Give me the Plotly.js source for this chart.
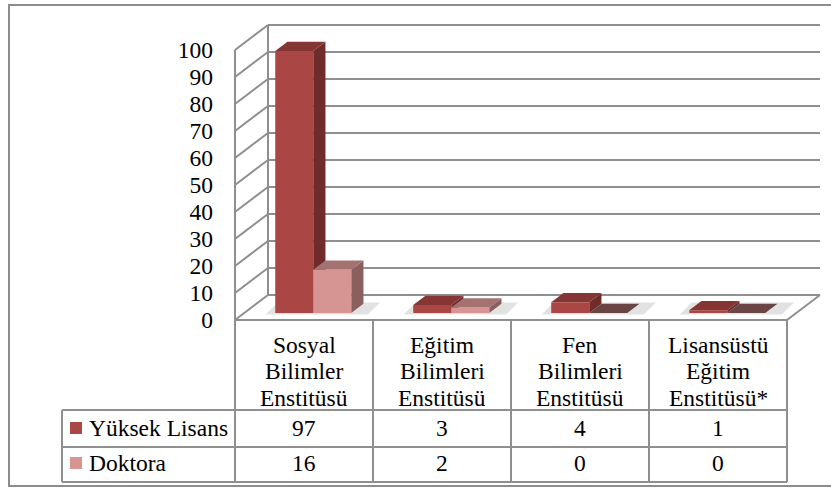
<!DOCTYPE html>
<html><head><meta charset="utf-8">
<script src="https://cdn.plot.ly/plotly-3.0.1.min.js"></script>
<style>html,body{margin:0;padding:0;background:#fff}#chart{width:831px;height:488px}</style>
</head><body><div id="chart"></div>
<script>
// ---- data ----
const categories = [
  ["Sosyal", "Bilimler", "Enstitüsü"],
  ["Eğitim", "Bilimleri", "Enstitüsü"],
  ["Fen", "Bilimleri", "Enstitüsü"],
  ["Lisansüstü", "Eğitim", "Enstitüsü*"]
];
const seriesNames = ["Yüksek Lisans", "Doktora"];
const yuksekLisans = [97, 3, 4, 1];
const doktora = [16, 2, 0, 0];
const yTickValues = [0, 10, 20, 30, 40, 50, 60, 70, 80, 90, 100];
const yTickText = ["0", "10", "20", "30", "40", "50", "60", "70", "80", "90", "100"];

// ---- geometry / style ----
const W = 831, H = 488, ML = 220;
const X0PX = 235, UNIT = 138, Y0PX = 320, VPX = 2.7;
const DX = 33 / UNIT, DY = 25 / VPX;      // full depth of the 3D box
const D0 = 0.28, DD = 0.37;                // bar depth start and thickness (fraction)
const BW = 38 / UNIT;                      // bar width
const FONT = "Liberation Serif";
const FS = 23.5;
const GRID = "#8f8f8f";
const colors = [
  {front: "#AA4643", side: "#6F2C2A", top: "#853533"},
  {front: "#D69492", side: "#8A605F", top: "#A47270"}
];
const xr = [(ML - X0PX) / UNIT, (W - X0PX) / UNIT];
const yr = [(Y0PX - H) / VPX, Y0PX / VPX];
const px = x => (x - ML) / (W - ML);
const py = y => (H - y) / H;
const nCat = categories.length;
const series = [yuksekLisans, doktora];

const shapes = [];
const annotations = [];
function line(x0, y0, x1, y1, xref, yref, color, width) {
  shapes.push({type: "line", x0, y0, x1, y1, xref, yref, layer: "below",
    line: {color: color || GRID, width: width || 2}});
}
function poly(pts, fill) {
  const p = "M" + pts.map(q => q[0] + "," + q[1]).join("L") + "Z";
  shapes.push({type: "path", path: p, xref: "x", yref: "y", layer: "below",
    fillcolor: fill, line: {width: 0}});
}

// outer frame
shapes.push({type: "rect", xref: "paper", yref: "paper", x0: px(9), x1: px(840), y0: py(5), y1: py(486),
  line: {color: "#8c8c8c", width: 2}, layer: "below"});

// walls & gridlines
line(0, 0, 0, yTickValues[yTickValues.length - 1], "x", "y");
line(DX, DY, DX, yTickValues[yTickValues.length - 1] + DY, "x", "y");
yTickValues.forEach(t => {
  line(0, t, DX, t + DY, "x", "y");
  line(DX, t + DY, nCat + DX, t + DY, "x", "y");
});
line(nCat, 0, nCat + DX, DY, "x", "y");

// bars: side and top faces (front faces are bar traces)
const xCenters = categories.map((c, i) => i + 0.5);
const bases = categories.map(() => D0 * DY);
// soft floor shadows
xCenters.forEach(c => {
  const a = c - BW + D0 * DX - 0.07, b = c + BW + D0 * DX + 0.12;
  poly([[a, D0 * DY - 0.6], [b, D0 * DY - 0.6], [b + DD * DX, (D0 + DD) * DY + 0.5], [a + DD * DX, (D0 + DD) * DY + 0.5]], "rgba(150,150,150,0.28)");
});
const barX = [];
series.forEach((vals, s) => {
  const xs = [];
  vals.forEach((v, i) => {
    const x0 = xCenters[i] + (s === 0 ? -BW : 0) + D0 * DX;
    const x1 = x0 + BW;
    const b = D0 * DY, t = b + v;
    const ddx = DD * DX, ddy = DD * DY;
    poly([[x1, b], [x1, t], [x1 + ddx, t + ddy], [x1 + ddx, b + ddy]], colors[s].side);
    poly([[x0, t], [x1, t], [x1 + ddx, t + ddy], [x0 + ddx, t + ddy]], v === 0 ? "#6B4544" : colors[s].top);
    xs.push(x0 + BW / 2);
  });
  barX.push(xs);
});

// table
const tblTop = 320, rowA = 410, rowB = 447, tblBot = 482, tblLeft = 62;
[rowA, rowB, tblBot].forEach(y => {
  shapes.push({type: "line", xref: "paper", yref: "paper", x0: px(tblLeft), x1: px(X0PX + nCat * UNIT), y0: py(y), y1: py(y),
    line: {color: GRID, width: 2}, layer: "above"});
});
shapes.push({type: "line", xref: "paper", yref: "paper", x0: px(tblLeft), x1: px(tblLeft), y0: py(rowA), y1: py(tblBot),
  line: {color: GRID, width: 2}, layer: "above"});
for (let i = 0; i <= nCat; i++) {
  shapes.push({type: "line", xref: "x", yref: "paper", x0: i, x1: i, y0: py(tblTop), y1: py(tblBot),
    line: {color: GRID, width: 2}, layer: "above"});
}
shapes.push({type: "line", xref: "x", yref: "y", x0: 0, x1: nCat, y0: 0, y1: 0,
  line: {color: GRID, width: 2}, layer: "above"});

const txt = (text, x, y, xref, xanchor) => annotations.push({text, x, y, xref: xref || "x", yref: "paper",
  xanchor: xanchor || "center", yanchor: "middle", showarrow: false, font: {family: FONT, size: FS, color: "#000"}});
const headerY = [345, 371, 398];
categories.forEach((lines, i) => lines.forEach((l, j) => txt(l, xCenters[i], py(headerY[j]))));
const rowY = [428, 463];
series.forEach((vals, s) => {
  vals.forEach((v, i) => txt(String(v), xCenters[i], py(rowY[s])));
  txt(seriesNames[s], px(87), py(rowY[s]), "paper", "left");
  shapes.push({type: "rect", xref: "paper", yref: "paper", x0: px(70), x1: px(82),
    y0: py(rowY[s] - 6), y1: py(rowY[s] + 6), fillcolor: colors[s].front, line: {width: 0}, layer: "above"});
});

const traces = series.map((vals, s) => ({
  type: "bar", name: seriesNames[s], x: barX[s], y: vals, base: bases, width: BW,
  marker: {color: colors[s].front, line: {width: 0}}, hoverinfo: "skip", showlegend: false
}));

const layout = {
  width: W, height: H, margin: {l: ML, r: 0, t: 0, b: 0},
  font: {family: FONT, size: FS, color: "#000"},
  paper_bgcolor: "#fff", plot_bgcolor: "#fff", barmode: "overlay", showlegend: false,
  xaxis: {range: xr, visible: false, fixedrange: true},
  yaxis: {range: yr, tickvals: yTickValues, ticktext: yTickText, showgrid: false, zeroline: false,
    showline: false, ticks: "", ticklabelstandoff: 6,
    tickfont: {family: FONT, size: FS, color: "#000"}, fixedrange: true},
  shapes, annotations
};
Plotly.newPlot("chart", traces, layout, {staticPlot: true, displayModeBar: false});
</script></body></html>
